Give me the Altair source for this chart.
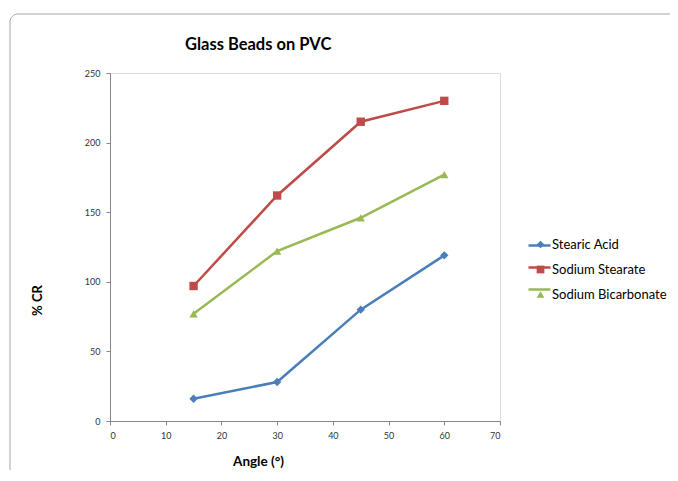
import altair as alt
import pandas as pd

angles = [15, 30, 45, 60]
stearic_acid = [16, 28, 80, 119]
sodium_stearate = [97, 162, 215, 230]
sodium_bicarbonate = [77, 122, 146, 177]
series_names = ["Stearic Acid", "Sodium Stearate", "Sodium Bicarbonate"]
x_ticks = [0, 10, 20, 30, 40, 50, 60, 70]
y_ticks = [0, 50, 100, 150, 200, 250]

rows = []
for name, vals in zip(series_names, [stearic_acid, sodium_stearate, sodium_bicarbonate]):
    for a, v in zip(angles, vals):
        rows.append({"Angle": a, "CR": v, "Series": name})
df = pd.DataFrame(rows)

colors = ["#4A7EBB", "#BE4B48", "#98B954"]
shapes = ["diamond", "square", "triangle-up"]
FONT = "Lato"

color_scale = alt.Scale(domain=series_names, range=colors)
shape_scale = alt.Scale(domain=series_names, range=shapes)

x_enc = alt.X(
    "Angle:Q",
    scale=alt.Scale(domain=[0, 70], nice=False),
    axis=alt.Axis(
        values=x_ticks, grid=False, title="Angle (°)", titleX=148, titleY=40,
        titleAlign="center", titleBaseline="middle", titleFont=FONT,
        titleFontSize=13.5, titleFontWeight="bold", titleColor="#000000",
        labelFont=FONT, labelFontSize=9, labelColor="#333333", labelPadding=6,
        domainColor="#868686", tickColor="#868686", tickSize=4,
    ),
)
y_enc = alt.Y(
    "CR:Q",
    scale=alt.Scale(domain=[0, 250], nice=False),
    axis=alt.Axis(
        values=y_ticks, grid=False, title="% CR", titleX=-73, titleY=227,
        titleAngle=270, titleAlign="center", titleBaseline="middle", titleFont=FONT,
        titleFontSize=13, titleFontWeight="bold", titleColor="#000000",
        labelFont=FONT, labelFontSize=9, labelColor="#333333", labelPadding=6,
        domainColor="#868686", tickColor="#868686", tickSize=4,
    ),
)

border = alt.Chart(pd.DataFrame({"k": [0]})).mark_rect(
    fill="transparent", stroke="#a6a6a6", strokeWidth=1, cornerRadius=8
).encode(
    x=alt.value(-100), x2=alt.value(620), y=alt.value(-59), y2=alt.value(440)
)

base = alt.Chart(df)

lines = base.mark_line(strokeWidth=2.5).encode(
    x=x_enc, y=y_enc,
    color=alt.Color(
        "Series:N", scale=color_scale,
        legend=alt.Legend(
            orient="none", legendX=417, legendY=160, title=None, padding=0,
            symbolType="stroke", symbolSize=484, symbolStrokeWidth=2.5,
            labelOpacity=0, labelFont=FONT, labelFontSize=13, labelOffset=1,
            rowPadding=2,
        ),
    ),
    detail="Series:N",
)

pt_legend = alt.Legend(
    orient="none", legendX=424, legendY=165, title=None, padding=0,
    symbolSize=60, labelFont=FONT, labelFontSize=13, labelColor="#000000",
    labelOffset=5, rowPadding=11,
)

points = base.mark_point(filled=True, size=70, opacity=1).encode(
    x=x_enc, y=y_enc,
    color=alt.Color("Series:N", scale=color_scale, legend=pt_legend),
    shape=alt.Shape("Series:N", scale=shape_scale, legend=pt_legend),
)

chart = alt.layer(border, lines, points).resolve_legend(
    color="independent", shape="independent"
).properties(
    width=390,
    height=348,
    autosize=alt.AutoSizeParams(type="none"),
    padding={"left": 102, "top": 65, "right": 170, "bottom": 49},
    title=alt.TitleParams(
        "Glass Beads on PVC", anchor="start", frame="group", dx=75, offset=-40,
        font=FONT, fontSize=16.5, fontWeight="bold", color="#000000",
    ),
).configure_view(stroke=None).configure(background="white")

chart.save("out.html", embed_options={"renderer": "svg", "actions": False})
